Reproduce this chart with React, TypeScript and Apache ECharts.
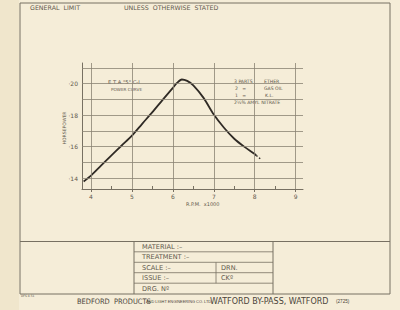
import React, { useEffect, useRef } from "react";
import * as echarts from "echarts";

const rpm = [3.82, 4.0, 4.25, 4.5, 4.75, 5.0, 5.25, 5.5, 5.75, 6.0, 6.1, 6.22, 6.35, 6.5, 6.75, 7.0, 7.25, 7.5, 7.75, 8.0, 8.04];
const hp = [0.1378, 0.1415, 0.148, 0.1544, 0.1607, 0.167, 0.1745, 0.1819, 0.1897, 0.1974, 0.2005, 0.2027, 0.2018, 0.199, 0.191, 0.1804, 0.172, 0.165, 0.1598, 0.1553, 0.1543];
const tailRpm = [8.04, 8.17];
const tailHp = [0.1543, 0.1515];
const xGrid = [4, 5, 6, 7, 8, 9];
const xHalf = [4.5, 5.5, 6.5, 7.5, 8.5];
const yGrid = [0.14, 0.15, 0.16, 0.17, 0.18, 0.19, 0.2, 0.21];
const yLabels = [0.14, 0.16, 0.18, 0.2];

const INK = "#5f584c";
const LINE = "#777062";
const FONT = "'DejaVu Sans', 'Liberation Sans', sans-serif";
const NARROW = "'Liberation Sans Narrow', 'DejaVu Sans Condensed', sans-serif";

export default function App() {
  const ref = useRef<HTMLDivElement>(null);
  useEffect(() => {
    if (!ref.current) return;
    const chart = echarts.init(ref.current, undefined, { renderer: "svg" });
    const txt = (x: number, y: number, text: string, size: number, extra: any = {}) => ({
      type: "text",
      x,
      y,
      silent: true,
      style: { text, fill: INK, font: `${size}px ${FONT}`, textVerticalAlign: "middle", ...extra },
    });
    const ln = (x1: number, y1: number, x2: number, y2: number, w = 1) => ({
      type: "line",
      silent: true,
      shape: { x1, y1, x2, y2 },
      style: { stroke: LINE, lineWidth: w },
    });
    const gridLineStyle = { color: "#8a8373", width: 0.8, type: "solid" as const };
    chart.setOption({
      animation: false,
      backgroundColor: "#f5edd8",
      grid: { left: 82, right: 97, top: 63, bottom: 121 },
      xAxis: [
        {
          type: "value",
          min: 3.78,
          max: 9.18,
          axisLine: { show: true, lineStyle: { color: LINE, width: 1 } },
          axisTick: { show: true, customValues: xGrid, length: 3, lineStyle: { color: LINE } },
          axisLabel: {
            show: true,
            customValues: xGrid,
            color: INK,
            fontSize: 6,
            fontFamily: FONT,
            margin: 4,
            formatter: (v: number) => String(Math.round(v)),
          },
          splitLine: { show: false },
        },
        {
          type: "value",
          min: 3.78,
          max: 9.18,
          position: "bottom",
          axisLine: { show: false },
          axisTick: { show: true, inside: true, customValues: xHalf, length: 3, lineStyle: { color: LINE } },
          axisLabel: { show: false },
          splitLine: { show: false },
        },
      ],
      yAxis: {
        type: "value",
        min: 0.133,
        max: 0.2132,
        axisLine: { show: true, lineStyle: { color: LINE, width: 1 } },
        axisTick: { show: false },
        axisLabel: {
          show: true,
          customValues: yLabels,
          color: INK,
          fontSize: 6,
          fontFamily: FONT,
          margin: 4,
          formatter: (v: number) => "·" + Math.round(v * 100),
        },
        splitLine: { show: false },
      },
      series: [
        {
          type: "line",
          data: [],
          silent: true,
          markLine: {
            silent: true,
            symbol: "none",
            label: { show: false },
            lineStyle: gridLineStyle,
            data: [...xGrid.map((v) => ({ xAxis: v })), ...yGrid.map((v) => ({ yAxis: v }))],
          },
        },
        {
          type: "line",
          smooth: 0.3,
          showSymbol: false,
          silent: true,
          data: rpm.map((r, i) => [r, hp[i]]),
          lineStyle: { color: "#2f2a25", width: 1.8 },
        },
        {
          type: "line",
          showSymbol: false,
          silent: true,
          data: tailRpm.map((r, i) => [r, tailHp[i]]),
          lineStyle: { color: "#2f2a25", width: 1.5, type: [1.5, 2] },
        },
      ],
      graphic: [
        { type: "rect", silent: true, shape: { x: 0, y: 0, width: 19, height: 310 }, style: { fill: "#f0e6cc" } },
        { type: "rect", silent: true, shape: { x: 20, y: 3, width: 370, height: 291 }, style: { fill: "none", stroke: LINE, lineWidth: 1 } },
        // title block
        ln(20, 241.5, 390, 241.5),
        ln(134, 241.5, 134, 294),
        ln(273, 241.5, 273, 294),
        ln(134, 251.8, 273, 251.8, 0.8),
        ln(134, 262.3, 273, 262.3, 0.8),
        ln(134, 272.7, 273, 272.7, 0.8),
        ln(134, 283.2, 273, 283.2, 0.8),
        ln(216, 262.3, 216, 283.2, 0.8),
        txt(30, 7.5, "GENERAL  LIMIT", 6.3),
        txt(124, 7.5, "UNLESS  OTHERWISE  STATED", 6.3),
        txt(142, 246.8, "MATERIAL :–", 6.6),
        txt(142, 257.2, "TREATMENT :–", 6.6),
        txt(142, 267.6, "SCALE :–", 6.6),
        txt(142, 278, "ISSUE :–", 6.6),
        txt(142, 288.5, "DRG. Nº", 6.6),
        txt(221, 267.6, "DRN.", 6.6),
        txt(221, 278, "CKº", 6.6),
        txt(21, 296, "DFS 8.51", 3),
        txt(77, 301, "BEDFORD  PRODUCTS", 7.4, { fill: "#4a443a", font: `7.4px ${NARROW}` }),
        txt(146, 301.3, "AND LIGHT ENGINEERING CO. LTD.", 3.9, { fill: "#4a443a", font: `3.9px 'Liberation Sans', sans-serif` }),
        txt(210, 301, "WATFORD BY-PASS, WATFORD", 8.9, { fill: "#4a443a", font: `8.9px ${NARROW}` }),
        txt(336, 301.3, "(2725)", 4.6, { fill: "#4a443a", font: `4.6px 'Liberation Sans', sans-serif` }),
        // chart notes
        txt(108, 81.8, "E T A \"5\" C-I", 5.2),
        txt(111, 89, "POWER CURVE", 4.2),
        txt(234, 81.5, "3 PARTS", 4.6),
        txt(264, 81.5, "ETHER", 4.6),
        txt(235, 88.3, "2   =", 4.6),
        txt(264, 88.3, "GAS OIL", 4.6),
        txt(235, 95, "1   =", 4.6),
        txt(265, 95, "K.L.", 4.6),
        txt(234, 102.5, "2½% AMYL NITRATE", 4.6),
        {
          type: "text",
          silent: true,
          x: 64,
          y: 128,
          rotation: Math.PI / 2,
          style: { text: "HORSEPOWER", fill: INK, font: `4.6px ${FONT}`, textAlign: "center", textVerticalAlign: "middle" },
        },
        txt(186, 203.5, "R.P.M.  x1000", 5),
      ],
    });
    return () => chart.dispose();
  }, []);
  return <div ref={ref} style={{ position: "fixed", left: 0, top: 0, width: 400, height: 310 }} />;
}
